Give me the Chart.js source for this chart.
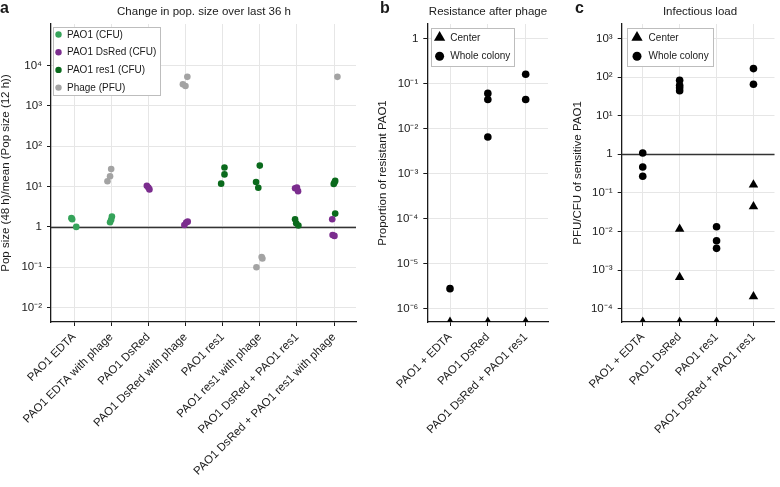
<!DOCTYPE html>
<html>
<head>
<meta charset="utf-8">
<script src="https://cdn.jsdelivr.net/npm/chart.js@4.4.1/dist/chart.umd.min.js"></script>
<style>
  body { margin: 0; background: #fff; }
  #wrap { position: relative; width: 780px; height: 487px; overflow: hidden; font-family: "Liberation Sans", Arial, sans-serif; color: #1a1a1a; }
  canvas { position: absolute; top: 0; }
  .letter { position: absolute; top: 0; font-weight: bold; font-size: 16px; line-height: 16px; }
  .title { position: absolute; top: 4px; font-size: 11.5px; line-height: 14px; transform: translateX(-50%); white-space: nowrap; }
</style>
</head>
<body>
<div id="wrap">
  <canvas id="chartA" width="370" height="487" style="left:0px"></canvas>
  <canvas id="chartB" width="186" height="487" style="left:374px"></canvas>
  <canvas id="chartC" width="210" height="487" style="left:570px"></canvas>
  <div class="letter" style="left:0px">a</div>
  <div class="letter" style="left:380px">b</div>
  <div class="letter" style="left:575px">c</div>
  <div class="title" style="left:204px">Change in pop. size over last 36 h</div>
  <div class="title" style="left:488px">Resistance after phage</div>
  <div class="title" style="left:700px">Infectious load</div>
</div>
<script>
// --- Panel a: change in population size (x = treatment index + jitter) ---
const treatmentsA = [
  "PAO1 EDTA", "PAO1 EDTA with phage", "PAO1 DsRed", "PAO1 DsRed with phage",
  "PAO1 res1", "PAO1 res1 with phage", "PAO1 DsRed + PAO1 res1", "PAO1 DsRed + PAO1 res1 with phage",
];
const pao1X = [-0.07, -0.05, 0.06, 0.97, 1.02, 1.0];
const pao1Y = [1.65, 1.55, 1.0, 1.3, 1.8, 1.5];
const dsredX = [1.96, 2.0, 2.03, 2.97, 3.02, 3.06, 5.95, 6.0, 6.03, 6.95, 6.96, 7.01];
const dsredY = [10.5, 9.5, 8.5, 1.12, 1.28, 1.35, 9.1, 9.4, 7.7, 1.55, 0.63, 0.6];
const res1X = [3.96, 4.05, 4.05, 4.9, 4.96, 5.0, 5.95, 5.98, 6.04, 6.99, 7.01, 7.03, 7.03];
const res1Y = [11.8, 20, 29.5, 13, 9.3, 33, 1.55, 1.23, 1.08, 11.6, 12.6, 13.8, 2.14];
const phageX = [0.9, 0.97, 1.0, 2.93, 3.0, 3.05, 4.91, 5.05, 5.07, 7.09];
const phageY = [13.5, 18, 27, 3400, 3100, 5200, 0.1, 0.18, 0.165, 5200];
const ticksA = [1e-2, 1e-1, 1, 1e1, 1e2, 1e3, 1e4];
const tickLabelsA = ["10⁻²", "10⁻¹", "1", "10¹", "10²", "10³", "10⁴"];

// --- Panel b: resistance after phage ---
const treatmentsB = ["PAO1 + EDTA", "PAO1 DsRed", "PAO1 DsRed + PAO1 res1"];
const wholeBX = [0, 1, 1, 1, 2, 2];
const wholeBY = [2.8e-6, 0.06, 0.044, 0.0065, 0.16, 0.044];
const centerBX = [0, 1, 2];
const centerBY = [5.1e-7, 5.1e-7, 5.1e-7]; // below detection, on the axis
const ticksB = [1e-6, 1e-5, 1e-4, 1e-3, 1e-2, 1e-1, 1];
const tickLabelsB = ["10⁻⁶", "10⁻⁵", "10⁻⁴", "10⁻³", "10⁻²", "10⁻¹", "1"];

// --- Panel c: infectious load ---
const treatmentsC = ["PAO1 + EDTA", "PAO1 DsRed", "PAO1 res1", "PAO1 DsRed + PAO1 res1"];
const wholeCX = [0, 0, 0, 1, 1, 1, 1, 2, 2, 2, 3, 3];
const wholeCY = [1.08, 0.47, 0.27, 82, 61, 53, 44, 0.0134, 0.0058, 0.0037, 165, 65];
const centerCX = [0, 1, 1, 1, 2, 3, 3, 3];
const centerCY = [4.6e-5, 0.0117, 6.6e-4, 4.6e-5, 4.6e-5, 0.164, 0.045, 2.1e-4];
const ticksC = [1e-4, 1e-3, 1e-2, 1e-1, 1, 1e1, 1e2, 1e3];
const tickLabelsC = ["10⁻⁴", "10⁻³", "10⁻²", "10⁻¹", "1", "10¹", "10²", "10³"];

// --- Common settings ---
const FONT = '"Liberation Sans", Arial, sans-serif';
const INK = "#1a1a1a";
const GRID = "#e6e6e6";
Chart.defaults.font.family = FONT;
Chart.defaults.color = INK;

const pts = (xs, ys) => xs.map((x, i) => ({ x: x, y: ys[i] }));

function drawMarker(ctx, style, x, y, r, color) {
  ctx.fillStyle = color;
  ctx.beginPath();
  if (style === "triangle") {
    ctx.moveTo(x, y - r);
    ctx.lineTo(x + 0.866 * r, y + 0.5 * r);
    ctx.lineTo(x - 0.866 * r, y + 0.5 * r);
    ctx.closePath();
  } else {
    ctx.arc(x, y, r, 0, Math.PI * 2);
  }
  ctx.fill();
}

// horizontal reference line at y = 1
const refLine = {
  id: "refLine",
  beforeDatasetsDraw(chart, args, opts) {
    if (opts.value === undefined) return;
    const { ctx, chartArea, scales } = chart;
    const y = Math.round(scales.y.getPixelForValue(opts.value)) + 0.5;
    ctx.save();
    ctx.strokeStyle = "#333";
    ctx.lineWidth = 1.3;
    ctx.beginPath();
    ctx.moveTo(chartArea.left, y);
    ctx.lineTo(chartArea.right, y);
    ctx.stroke();
    ctx.restore();
  },
};

// legend box inside the plot, top left
const insetLegend = {
  id: "insetLegend",
  afterDatasetsDraw(chart, args, opts) {
    const { ctx, chartArea } = chart;
    const sets = chart.data.datasets;
    ctx.save();
    ctx.font = "10px " + FONT;
    const textW = Math.max(...sets.map((d) => ctx.measureText(d.label).width));
    const left = Math.round(chartArea.left + opts.dx);
    const top = Math.round(chartArea.top + opts.dy);
    const w = Math.round(opts.textX + textW + 4);
    const h = Math.round(opts.first * 2 + opts.row * (sets.length - 1));
    ctx.fillStyle = "#fff";
    ctx.fillRect(left, top, w, h);
    ctx.strokeStyle = "#bdbdbd";
    ctx.lineWidth = 1;
    ctx.strokeRect(left + 0.5, top + 0.5, w, h);
    sets.forEach((d, i) => {
      const cy = top + opts.first + i * opts.row;
      drawMarker(ctx, d.pointStyle, left + opts.markerX, cy, opts.markerR[d.pointStyle], d.backgroundColor);
      ctx.fillStyle = INK;
      ctx.textAlign = "left";
      ctx.textBaseline = "middle";
      ctx.fillText(d.label, left + opts.textX, cy + 0.5);
    });
    ctx.restore();
  },
};

function makePanel(id, p) {
  return new Chart(document.getElementById(id), {
    type: "scatter",
    data: { datasets: p.datasets },
    plugins: [refLine, insetLegend],
    options: {
      responsive: false,
      animation: false,
      events: [],
      layout: { padding: { top: 24, right: p.padRight, bottom: 0, left: 0 } },
      plugins: {
        legend: { display: false },
        tooltip: { enabled: false },
        refLine: { value: p.refValue },
        insetLegend: p.legend,
      },
      scales: {
        x: {
          type: "linear",
          min: p.xMin,
          max: p.xMax,
          afterBuildTicks: (s) => { s.ticks = p.cats.map((c, i) => ({ value: i })); },
          afterFit: (s) => { s.height = 165; },
          ticks: {
            autoSkip: false,
            minRotation: 45,
            maxRotation: 45,
            padding: 1,
            color: INK,
            font: { size: 11.5, lineHeight: 2.0 },
            callback: (v) => p.cats[v],
          },
          grid: { color: GRID, tickColor: INK, tickLength: 4 },
          border: { color: INK, width: 1.3 },
        },
        y: {
          type: "logarithmic",
          min: p.yMin,
          max: p.yMax,
          afterBuildTicks: (s) => { s.ticks = p.ticks.map((v) => ({ value: v })); },
          afterFit: (s) => { s.width = p.axisW; },
          ticks: {
            padding: 5,
            color: INK,
            font: { size: 11.5 },
            callback: (v, i) => p.tickLabels[i],
          },
          title: {
            display: true,
            text: p.yTitle,
            color: INK,
            font: { size: 11.5, lineHeight: 1 },
            padding: { top: p.titlePad, bottom: 0 },
          },
          grid: { color: GRID, tickColor: INK, tickLength: 4 },
          border: { color: INK, width: 1.3 },
        },
      },
    },
  });
}

// --- Panel a ---
makePanel("chartA", {
  cats: treatmentsA,
  xMin: -0.62, xMax: 7.59,
  yMin: 0.00442, yMax: 106000,
  ticks: ticksA, tickLabels: tickLabelsA,
  yTitle: "Pop size (48 h)/mean (Pop size (12 h))",
  axisW: 51, padRight: 14, titlePad: 0,
  refValue: 1,
  legend: { dx: 2, dy: 3, first: 7.5, row: 17.7, markerX: 5.5, textX: 14, markerR: { circle: 3.2 } },
  datasets: [
    { label: "PAO1 (CFU)", data: pts(pao1X, pao1Y), pointStyle: "circle", pointRadius: 3.3, backgroundColor: "#35a35a", borderWidth: 0 },
    { label: "PAO1 DsRed (CFU)", data: pts(dsredX, dsredY), pointStyle: "circle", pointRadius: 3.3, backgroundColor: "#7b2d8e", borderWidth: 0 },
    { label: "PAO1 res1 (CFU)", data: pts(res1X, res1Y), pointStyle: "circle", pointRadius: 3.3, backgroundColor: "#0a6a1c", borderWidth: 0 },
    { label: "Phage (PFU)", data: pts(phageX, phageY), pointStyle: "circle", pointRadius: 3.3, backgroundColor: "#a3a3a3", borderWidth: 0 },
  ],
});

// --- Panel b ---
makePanel("chartB", {
  cats: treatmentsB,
  xMin: -0.6, xMax: 2.59,
  yMin: 5.1e-7, yMax: 2.08,
  ticks: ticksB, tickLabels: tickLabelsB,
  yTitle: "Proportion of resistant PAO1",
  axisW: 53.3, padRight: 12, titlePad: 3.2,
  legend: { dx: 3.4, dy: 4, first: 9.5, row: 18.7, markerX: 8.6, textX: 19.3, markerR: { circle: 4.5, triangle: 6.5 } },
  datasets: [
    { label: "Center", data: pts(centerBX, centerBY), pointStyle: "triangle", pointRadius: 5.5, backgroundColor: "#000", borderWidth: 0 },
    { label: "Whole colony", data: pts(wholeBX, wholeBY), pointStyle: "circle", pointRadius: 3.8, backgroundColor: "#000", borderWidth: 0 },
  ],
});

// --- Panel c ---
makePanel("chartC", {
  cats: treatmentsC,
  xMin: -0.57, xMax: 3.57,
  yMin: 4.6e-5, yMax: 2350,
  ticks: ticksC, tickLabels: tickLabelsC,
  yTitle: "PFU/CFU of sensitive PAO1",
  axisW: 51.7, padRight: 1, titlePad: 2.2,
  refValue: 1,
  legend: { dx: 5, dy: 4, first: 9.5, row: 18.7, markerX: 10, textX: 21.6, markerR: { circle: 4.5, triangle: 6.5 } },
  datasets: [
    { label: "Center", data: pts(centerCX, centerCY), pointStyle: "triangle", pointRadius: 5.5, backgroundColor: "#000", borderWidth: 0 },
    { label: "Whole colony", data: pts(wholeCX, wholeCY), pointStyle: "circle", pointRadius: 3.8, backgroundColor: "#000", borderWidth: 0 },
  ],
});
</script>
</body>
</html>
